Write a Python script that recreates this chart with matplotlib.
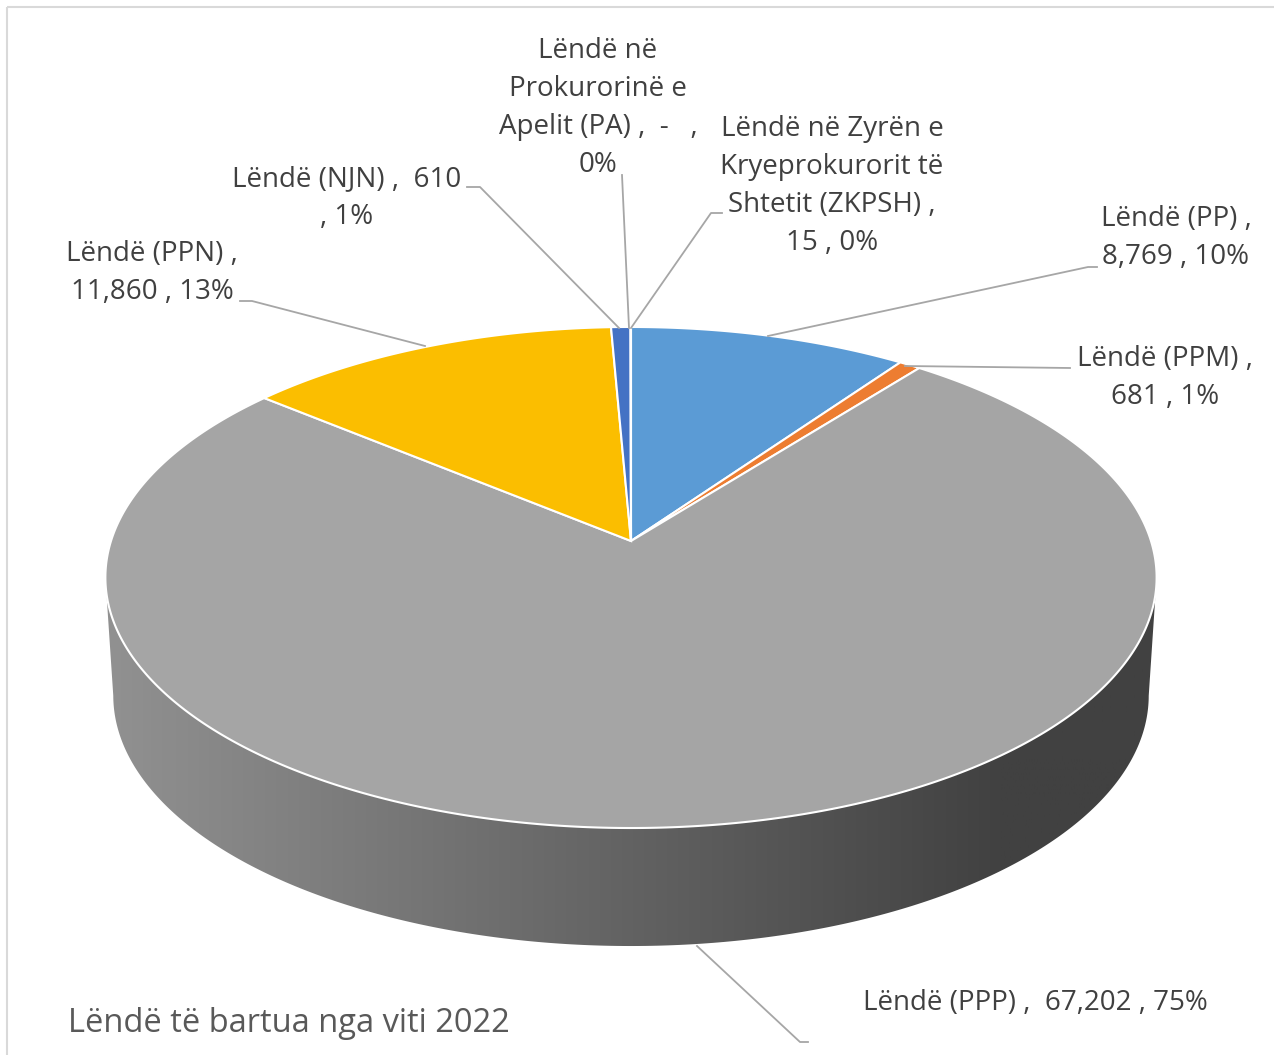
import numpy as np
import matplotlib
matplotlib.use("Agg")
import matplotlib.pyplot as plt
from matplotlib.patches import Polygon, Rectangle
from matplotlib.colors import LinearSegmentedColormap

# data
names = ["Lëndë (PP)", "Lëndë (PPM)", "Lëndë (PPP)", "Lëndë (PPN)", "Lëndë (NJN)",
         "Lëndë në\nProkurorinë e\nApelit (PA)", "Lëndë në Zyrën e\nKryeprokurorit të\nShtetit (ZKPSH)"]
values = [8769, 681, 67202, 11860, 610, 0, 15]
colors = ["#5B9BD5", "#ED7D31", "#A5A5A5", "#FBBE00", "#4472C4", "#70AD47", "#264478"]
# how each label is broken into lines
templates = ["{n} ,\n{v} , {p}", "{n} ,\n{v} , {p}", "{n} ,  {v} , {p}", "{n} ,\n{v} , {p}",
             "{n} ,  {v}\n, {p}", "{n} ,  {v}   ,\n{p}", "{n} ,\n{v} , {p}"]
title = "Lëndë të bartua nga viti 2022"

# layout (pixels)
label_xy = [(1176, 238), (1165, 378), (1035, 1003), (152, 273), (347, 198), (598, 108), (832, 186)]
leaders = [[(768, 336), (1088, 267), (1097, 267)],
           [(905, 366), (1070, 368)],
           [(697, 946), (800, 1042), (808, 1042)],
           [(425, 346), (252, 301), (240, 301)],
           [(619, 328), (480, 187), (467, 187)],
           [(629, 328), (622, 175)],
           [(631, 328), (711, 213), (722, 213)]]

CX, CY = 631, 541
A, B, E = 520, 245.2, 0.1457
DEPTH, SHRINK = 118, 0.985


def proj(theta, r=1.0, bottom=False):
    t = np.radians(theta)
    u, v = r * np.cos(t), r * np.sin(t)
    d = 1 + E * v
    x = CX + A * u / d
    y = CY - B * v / d
    if bottom:
        x = CX + (x - CX) * SHRINK
        y = y + DEPTH
    return x, y


plt.rcParams["font.family"] = ["Open Sans", "DejaVu Sans"]
fig = plt.figure(figsize=(12.74, 10.55), dpi=100)
ax = fig.add_axes([0, 0, 1, 1])
ax.set_xlim(0, 1274)
ax.set_ylim(1055, 0)
ax.axis("off")

ax.add_patch(Rectangle((7, 7), 1300, 1100, fill=False, ec="#D9D9D9", lw=1.5))

# side wall (front half)
th = np.linspace(188.4, 351.6, 300)
tx, ty = proj(th)
bx, by = proj(th[::-1], bottom=True)
side = Polygon(np.column_stack([np.r_[tx, bx], np.r_[ty, by]]), closed=True,
               fc="none", ec="none")
ax.add_patch(side)
cmap = LinearSegmentedColormap.from_list("side", ["#919191", "#414141"])
grad = np.clip((np.linspace(100, 1165, 400) - 105) / 900, 0, 1)[None, :]
im = ax.imshow(grad, cmap=cmap, extent=(100, 1165, 960, 560), aspect="auto",
               vmin=0, vmax=1, zorder=1)
im.set_clip_path(side)

# top face
total = sum(values)
start = 90.0
for val, col in zip(values, colors):
    span = val / total * 360
    if span > 0:
        arc = np.linspace(start, start - span, max(int(span * 2), 3))
        ax_, ay_ = proj(arc)
        pts = np.column_stack([np.r_[CX, ax_], np.r_[CY, ay_]])
        ax.add_patch(Polygon(pts, closed=True, fc=col, ec="white", lw=1.5, zorder=2))
    start -= span

# leader lines and labels
for n, val, tpl, (lx, ly), ld in zip(names, values, templates, label_xy, leaders):
    vs = "-" if val == 0 else f"{val:,}"
    txt = tpl.format(n=n, v=vs, p=f"{round(val / total * 100):.0f}%")
    xs, ys = zip(*ld)
    ax.plot(xs, ys, color="#A6A6A6", lw=1.3, zorder=3)
    ax.text(lx, ly, txt, ha="center", va="center", fontsize=20, color="#404040",
            linespacing=1.47, zorder=4)

ax.text(68, 1023, title, ha="left", va="center", fontsize=23.5, color="#595959")

fig.savefig("out.png", dpi=100)
